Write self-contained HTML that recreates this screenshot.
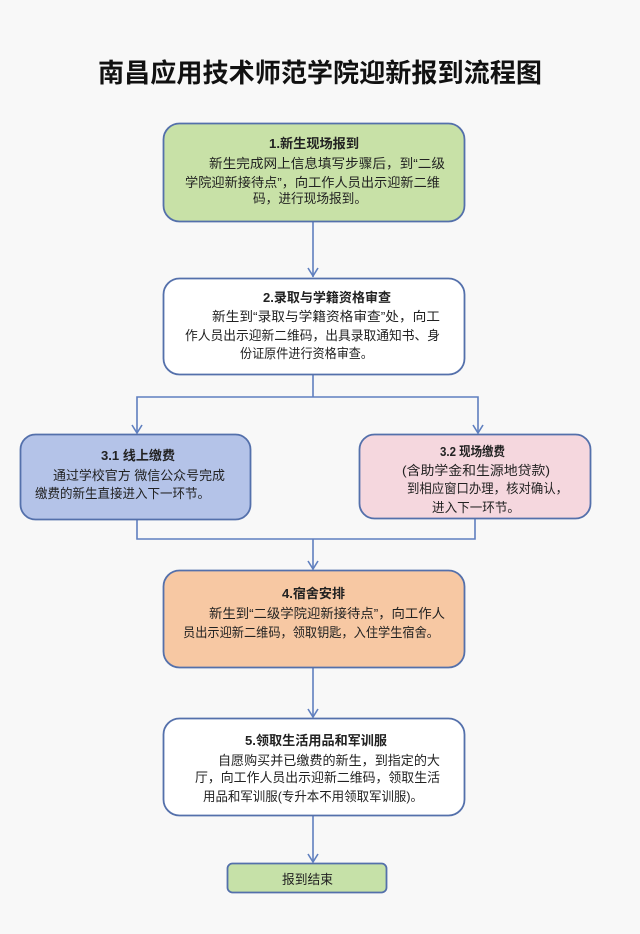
<!DOCTYPE html>
<html><head><meta charset="utf-8"><style>
html,body{margin:0;padding:0;background:#f8f8f8;}
svg{display:block;}
text{font-family:"Liberation Sans","Noto Sans CJK SC",sans-serif;fill:#222;}
.t{font-size:13px;}
.h{font-size:13px;font-weight:bold;}
</style></head><body>
<svg width="640" height="934" viewBox="0 0 640 934" xmlns="http://www.w3.org/2000/svg">
<rect x="0" y="0" width="640" height="934" fill="#f8f8f8"/>
<text x="98" y="82" font-size="26" font-weight="bold" textLength="444" lengthAdjust="spacingAndGlyphs" style="fill:#111">南昌应用技术师范学院迎新报到流程图</text>

<g fill="none" stroke="#5f7fbf" stroke-width="1.6">
  <line x1="313" y1="222" x2="313" y2="277"/>
  <polyline points="308,268 313,276 318,268"/>
  <line x1="313" y1="375" x2="313" y2="397"/>
  <polyline points="137,433 137,397 478,397 478,433"/>
  <polyline points="132,425 137,433 142,425"/>
  <polyline points="473,425 478,433 483,425"/>
  <polyline points="137,520 137,539 475,539 475,519"/>
  <line x1="313" y1="539" x2="313" y2="569"/>
  <polyline points="308,561 313,569 318,561"/>
  <line x1="313" y1="668" x2="313" y2="717"/>
  <polyline points="308,709 313,717 318,709"/>
  <line x1="313" y1="816" x2="313" y2="862"/>
  <polyline points="308,854 313,862 318,854"/>
</g>

<g stroke="#5470ab" stroke-width="1.8">
  <rect x="163.5" y="123.5" width="301" height="98" rx="16" fill="#c8e1a7"/>
  <rect x="163.5" y="278.5" width="301" height="96" rx="16" fill="#ffffff"/>
  <rect x="20.5" y="434.5" width="230" height="85" rx="15" fill="#b4c3e8"/>
  <rect x="359.5" y="434.5" width="231" height="84" rx="15" fill="#f5d7de"/>
  <rect x="163.5" y="570.5" width="301" height="97" rx="16" fill="#f7c8a3"/>
  <rect x="163.5" y="718.5" width="301" height="97" rx="16" fill="#ffffff"/>
  <rect x="227.5" y="863.5" width="159" height="29" rx="5" fill="#c6e1a8"/>
</g>

<text class="h" x="269" y="148" textLength="90" lengthAdjust="spacingAndGlyphs">1.新生现场报到</text>
<text class="t" x="209" y="168" textLength="236" lengthAdjust="spacingAndGlyphs">新生完成网上信息填写步骤后，到“二级</text>
<text class="t" x="185" y="187" textLength="255" lengthAdjust="spacingAndGlyphs">学院迎新接待点”，向工作人员出示迎新二维</text>
<text class="t" x="253" y="203" textLength="114" lengthAdjust="spacingAndGlyphs">码，进行现场报到。</text>

<text class="h" x="263" y="302" textLength="128" lengthAdjust="spacingAndGlyphs">2.录取与学籍资格审查</text>
<text class="t" x="212" y="321" textLength="228" lengthAdjust="spacingAndGlyphs">新生到“录取与学籍资格审查”处，向工</text>
<text class="t" x="185" y="340" textLength="255" lengthAdjust="spacingAndGlyphs">作人员出示迎新二维码，出具录取通知书、身</text>
<text class="t" x="240" y="358" textLength="133" lengthAdjust="spacingAndGlyphs">份证原件进行资格审查。</text>

<text class="h" x="101" y="460" textLength="74" lengthAdjust="spacingAndGlyphs">3.1 线上缴费</text>
<text class="t" x="53" y="480" textLength="172" lengthAdjust="spacingAndGlyphs">通过学校官方 微信公众号完成</text>
<text class="t" x="35" y="498" textLength="175" lengthAdjust="spacingAndGlyphs">缴费的新生直接进入下一环节。</text>

<text class="h" x="440" y="456" textLength="65" lengthAdjust="spacingAndGlyphs">3.2 现场缴费</text>
<text class="t" x="402" y="475" textLength="148" lengthAdjust="spacingAndGlyphs">(含助学金和生源地贷款)</text>
<text class="t" x="407" y="493" textLength="161" lengthAdjust="spacingAndGlyphs">到相应窗口办理，核对确认，</text>
<text class="t" x="432" y="512" textLength="88" lengthAdjust="spacingAndGlyphs">进入下一环节。</text>

<text class="h" x="282" y="598" textLength="63" lengthAdjust="spacingAndGlyphs">4.宿舍安排</text>
<text class="t" x="209" y="618" textLength="236" lengthAdjust="spacingAndGlyphs">新生到“二级学院迎新接待点”，向工作人</text>
<text class="t" x="183" y="637" textLength="256" lengthAdjust="spacingAndGlyphs">员出示迎新二维码，领取钥匙，入住学生宿舍。</text>

<text class="h" x="245" y="745" textLength="142" lengthAdjust="spacingAndGlyphs">5.领取生活用品和军训服</text>
<text class="t" x="218" y="765" textLength="222" lengthAdjust="spacingAndGlyphs">自愿购买并已缴费的新生，到指定的大</text>
<text class="t" x="195" y="782" textLength="245" lengthAdjust="spacingAndGlyphs">厅，向工作人员出示迎新二维码，领取生活</text>
<text class="t" x="203" y="801" textLength="220" lengthAdjust="spacingAndGlyphs">用品和军训服(专升本不用领取军训服)。</text>

<text class="t" x="282" y="884" textLength="51" lengthAdjust="spacingAndGlyphs">报到结束</text>
</svg>
</body></html>
